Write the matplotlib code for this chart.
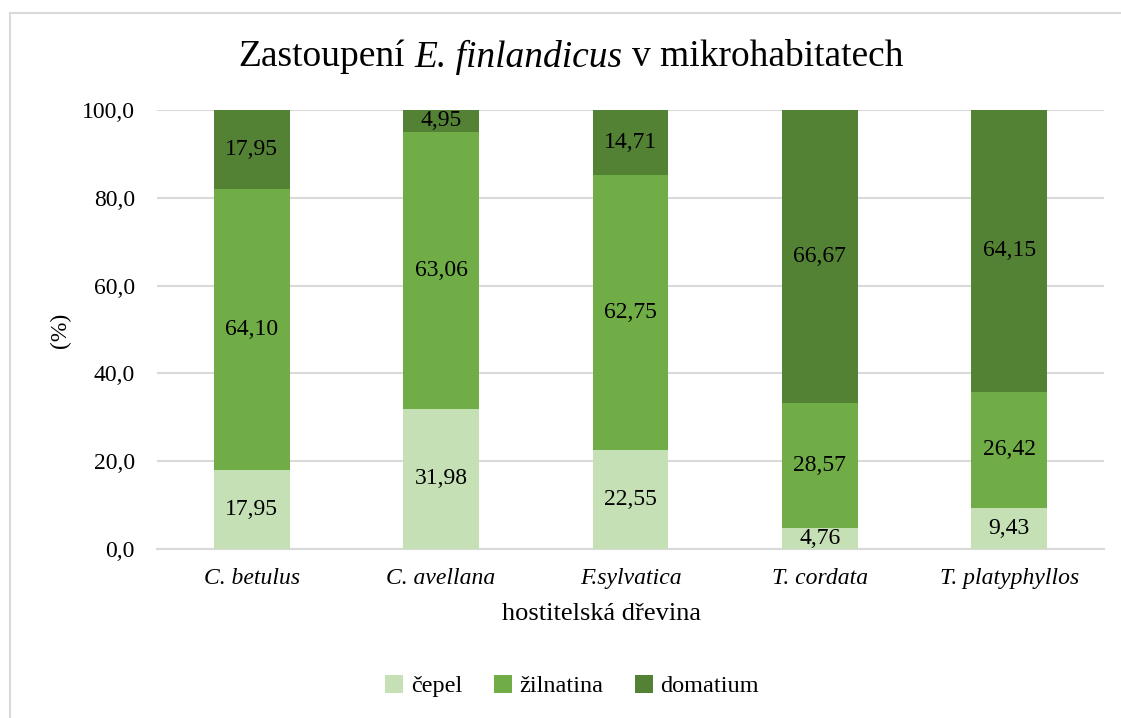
import numpy as np
import matplotlib
matplotlib.use("Agg")
import matplotlib.pyplot as plt
from matplotlib.lines import Line2D

plt.rcParams["font.family"] = ["Liberation Serif", "DejaVu Serif"]

# data
hosts = ["C. betulus", "C. avellana", "F.sylvatica", "T. cordata", "T. platyphyllos"]
cepel = [17.95, 31.98, 22.55, 4.76, 9.43]
zilnatina = [64.10, 63.06, 62.75, 28.57, 26.42]
domatium = [17.95, 4.95, 14.71, 66.67, 64.15]

series_names = ["čepel", "žilnatina", "domatium"]
colors = ["#C5E0B4", "#70AD47", "#548235"]
title_parts = [("Zastoupení", "normal"), ("E. finlandicus", "italic"), ("v mikrohabitatech", "normal")]

W, H = 1121, 718
fig = plt.figure(figsize=(W / 100, H / 100), dpi=100)
ax = fig.add_axes([157 / W, 1 - 549 / H, (1104 - 157) / W, (549 - 110) / H])

x = np.arange(len(hosts))
bottom = np.zeros(len(hosts))
handles = []
for vals, name, col in zip([cepel, zilnatina, domatium], series_names, colors):
    vals = np.array(vals)
    bars = ax.bar(x, vals, width=0.40, bottom=bottom, color=col, label=name, zorder=3)
    handles.append(bars)
    for xi, b, v in zip(x, bottom, vals):
        ax.text(xi, b + v / 2, f"{v:.2f}".replace(".", ","), ha="center", va="center",
                fontsize=17, color="black", zorder=4)
    bottom += vals

ax.set_xlim(-0.5, len(hosts) - 0.5)
ax.set_ylim(0, 100)
ax.set_yticks(np.arange(0, 101, 20))
ax.set_yticklabels([f"{t:.1f}".replace(".", ",") for t in np.arange(0, 101, 20)], fontsize=17)
ax.set_xticks(x)
ax.set_xticklabels(hosts, fontsize=17, style="italic")
ax.tick_params(length=0)
ax.tick_params(axis="y", pad=16)
ax.tick_params(axis="x", pad=14)
ax.grid(axis="y", color="#D9D9D9", linewidth=1.5, zorder=0)
for s in ["top", "right", "left"]:
    ax.spines[s].set_visible(False)
ax.spines["bottom"].set_color("#D9D9D9")
ax.spines["bottom"].set_linewidth(1.5)

# title with an italic species name: lay the pieces side by side
renderer = fig.canvas.get_renderer()
title_fs = 27
pieces = [fig.text(0, 1 - 57 / H, txt, style=st, fontsize=title_fs, va="center", ha="left")
          for txt, st in title_parts]
probe_a = fig.text(0, 0, "aa", fontsize=title_fs)
probe_b = fig.text(0, 0, "a a", fontsize=title_fs)
space_w = probe_b.get_window_extent(renderer).width - probe_a.get_window_extent(renderer).width
probe_a.remove()
probe_b.remove()
widths = [p.get_window_extent(renderer).width for p in pieces]
total = sum(widths) + space_w * (len(pieces) - 1)
left_px = 571 - total / 2
for p, w in zip(pieces, widths):
    p.set_x(left_px / W)
    left_px += w + space_w

fig.text(601 / W, 1 - 614 / H, "hostitelská dřevina", ha="center", va="center", fontsize=19)
fig.text(60 / W, 1 - 330 / H, "(%)", ha="center", va="center", rotation=90, fontsize=17)

fig.legend(handles=handles, labels=series_names, loc="center", ncol=3,
           bbox_to_anchor=(572 / W, 1 - 686 / H), frameon=False, fontsize=17.5,
           handlelength=0.75, handleheight=0.75, handletextpad=0.3, columnspacing=1.3)

# chart area border (top and left edges visible)
fig.add_artist(Line2D([10 / W, 1.0], [1 - 13 / H, 1 - 13 / H], color="#D9D9D9", linewidth=1.5))
fig.add_artist(Line2D([10 / W, 10 / W], [0.0, 1 - 13 / H], color="#D9D9D9", linewidth=1.5))

fig.savefig("out.png", dpi=100)
